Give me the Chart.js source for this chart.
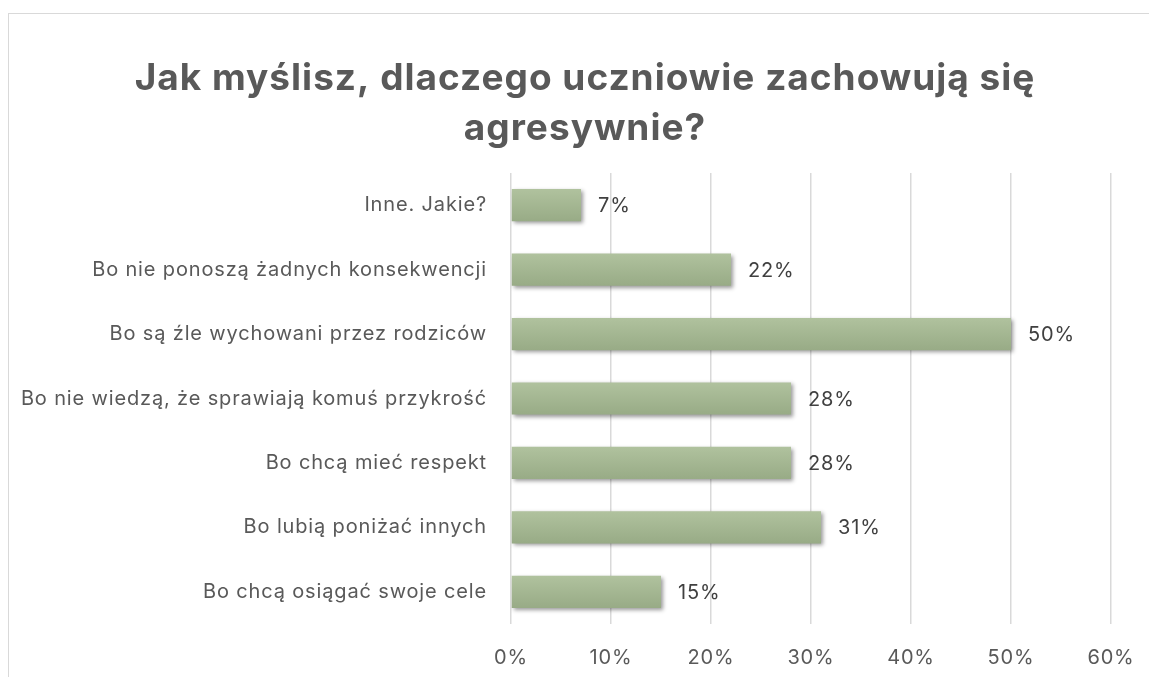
<!DOCTYPE html>
<html>
<head>
<meta charset="utf-8">
<script src="https://cdn.jsdelivr.net/npm/chart.js@4/dist/chart.umd.min.js"></script>
<style>
  html, body { margin: 0; padding: 0; background: #fff; overflow: hidden; }
  #wrap { position: relative; width: 1149px; height: 677px; }
  #frame { position: absolute; left: 8px; top: 13px; width: 1200px; height: 700px; border: 1px solid #d9d9d9; box-sizing: border-box; }
  canvas { position: absolute; left: 0; top: 0; }
</style>
</head>
<body>
<div id="wrap">
  <div id="frame"></div>
  <canvas id="chart" width="1149" height="677"></canvas>
</div>
<script>
const chartTitle = ['Jak myślisz, dlaczego uczniowie zachowują się', 'agresywnie?'];
const categories = [
  'Inne. Jakie?',
  'Bo nie ponoszą żadnych konsekwencji',
  'Bo są źle wychowani przez rodziców',
  'Bo nie wiedzą, że sprawiają komuś przykrość',
  'Bo chcą mieć respekt',
  'Bo lubią poniżać innych',
  'Bo chcą osiągać swoje cele'
];
const values = [7, 22, 50, 28, 28, 31, 15];
const xTicks = [0, 10, 20, 30, 40, 50, 60];

const FONT = "Inter, 'Open Sans', sans-serif";

// gradient dla słupków (liczony ze skali y)
function barFill(context) {
  const chart = context.chart;
  const ys = chart.scales.y;
  if (!ys || context.dataIndex == null) return '#a5b891';
  const yc = ys.getPixelForValue(context.dataIndex);
  const h = ys.height / categories.length * 0.5;
  if (!isFinite(yc) || !isFinite(h) || h <= 0) return '#a5b891';
  const g = chart.ctx.createLinearGradient(0, yc - h / 2, 0, yc + h / 2);
  g.addColorStop(0, '#b0c29e');
  g.addColorStop(1, '#98ab86');
  return g;
}

// szerszy tekst (rozstrzelenie liter)
const spacing = {
  id: 'spacing',
  beforeUpdate(chart) { chart.ctx.letterSpacing = '0.85px'; },
  beforeDraw(chart) { chart.ctx.letterSpacing = '0.85px'; }
};

// tytuł wyśrodkowany nad całym wykresem
const titlePlugin = {
  id: 'bigTitle',
  afterDraw(chart) {
    const ctx = chart.ctx;
    ctx.save();
    ctx.letterSpacing = '1px';
    ctx.font = 'bold 37px ' + FONT;
    ctx.fillStyle = '#595959';
    ctx.textAlign = 'center';
    ctx.textBaseline = 'middle';
    chartTitle.forEach(function(line, i) {
      ctx.fillText(line, 585, 79 + i * 50);
    });
    ctx.restore();
  }
};

const shadowPlugin = {
  id: 'shadow',
  beforeDatasetsDraw(chart) {
    const ctx = chart.ctx;
    ctx.save();
    ctx.shadowColor = 'rgba(0,0,0,0.4)';
    ctx.shadowBlur = 4;
    ctx.shadowOffsetX = 2;
    ctx.shadowOffsetY = 2;
  },
  afterDatasetsDraw(chart) {
    chart.ctx.restore();
  }
};

const valueLabels = {
  id: 'valueLabels',
  afterDraw(chart) {
    const ctx = chart.ctx;
    const meta = chart.getDatasetMeta(0);
    ctx.save();
    ctx.font = '20px ' + FONT;
    ctx.fillStyle = '#404040';
    ctx.textAlign = 'left';
    ctx.textBaseline = 'middle';
    meta.data.forEach(function(bar, i) {
      ctx.fillText(values[i] + '%', bar.x + 17, bar.y + 1);
    });
    ctx.restore();
  }
};

new Chart(document.getElementById('chart').getContext('2d'), {
  type: 'bar',
  data: {
    labels: categories,
    datasets: [{
      data: values,
      backgroundColor: barFill,
      borderWidth: 0,
      categoryPercentage: 1,
      barPercentage: 0.5
    }]
  },
  options: {
    indexAxis: 'y',
    responsive: false,
    animation: false,
    layout: { padding: { left: 18, right: 38, top: 173, bottom: 7 } },
    plugins: {
      legend: { display: false },
      tooltip: { enabled: false },
      title: { display: false }
    },
    scales: {
      x: {
        min: 0,
        max: 60,
        afterBuildTicks(scale) { scale.ticks = xTicks.map(v => ({ value: v })); },
        grid: { color: '#d9d9d9', lineWidth: 1.5, drawTicks: true, tickLength: 22, tickColor: 'rgba(0,0,0,0)' },
        border: { display: false },
        ticks: {
          padding: 0,
          color: '#595959',
          font: { family: FONT, size: 20 },
          callback: v => v + '%'
        }
      },
      y: {
        grid: { display: false, drawTicks: true, tickLength: 24 },
        border: { display: false },
        afterFit(scale) { scale.width = 493; },
        ticks: {
          padding: 0,
          color: '#595959',
          font: { family: FONT, size: 20 }
        }
      }
    }
  },
  plugins: [spacing, shadowPlugin, valueLabels, titlePlugin]
});
</script>
</body>
</html>
